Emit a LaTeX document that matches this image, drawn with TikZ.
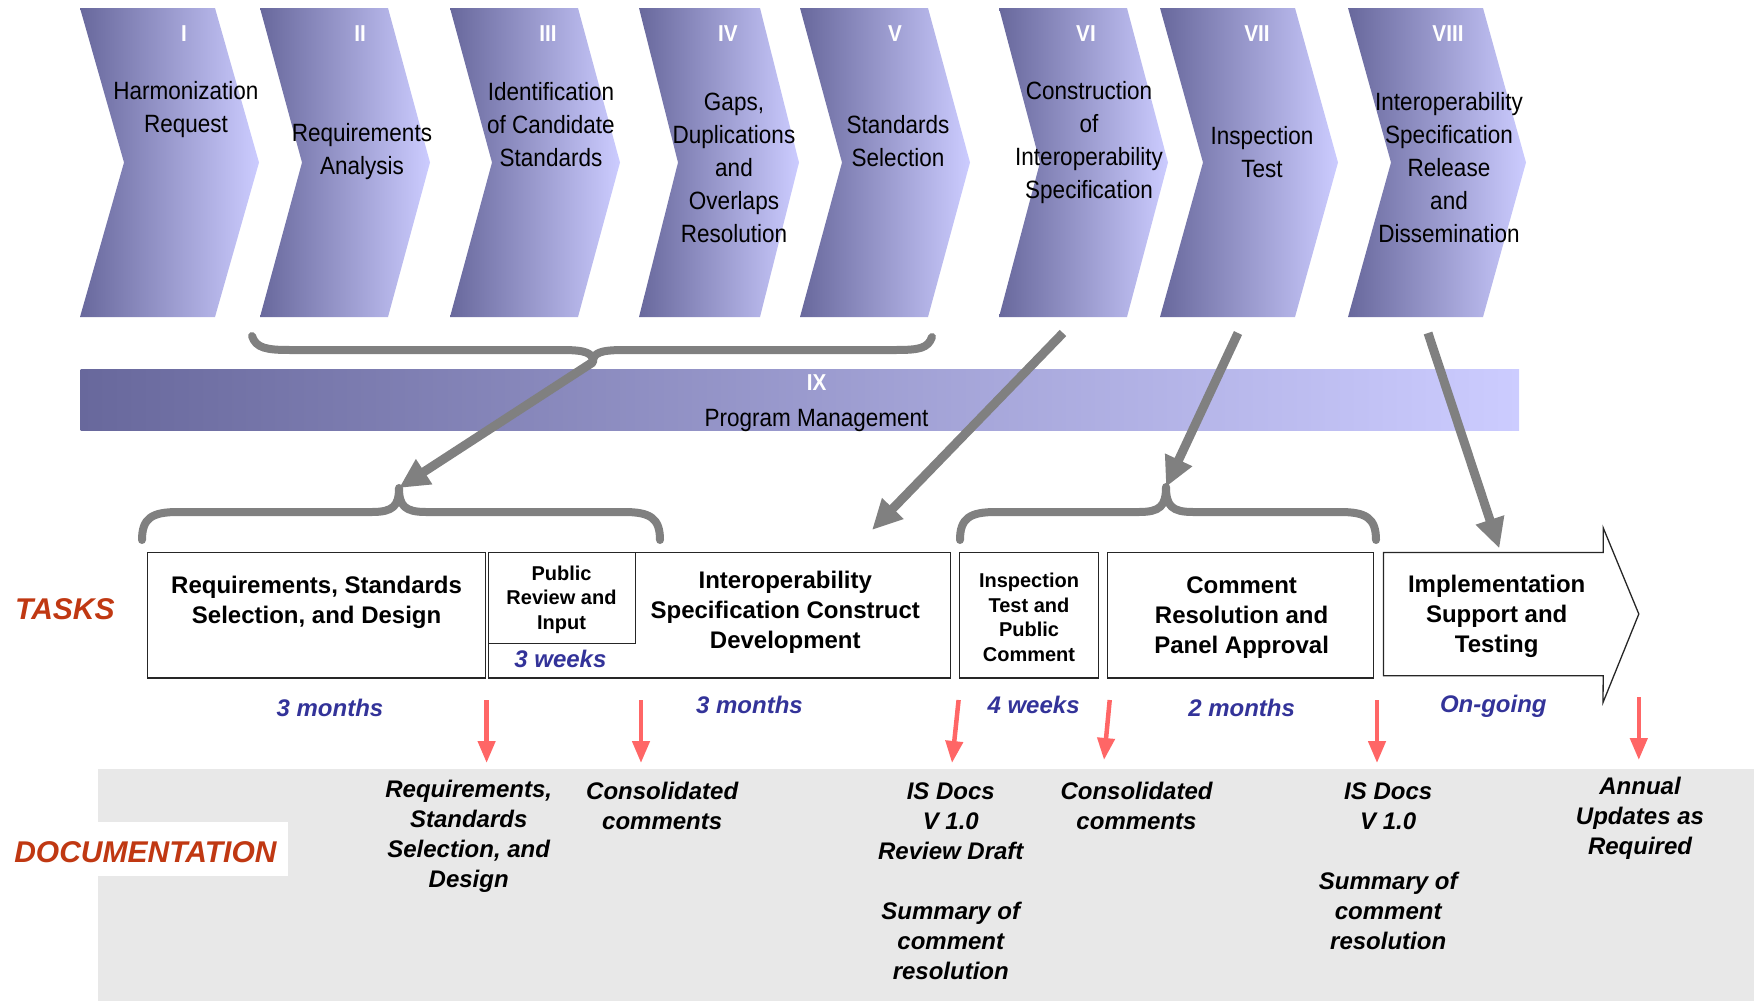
\documentclass[tikz,border=0pt]{standalone}
\usepackage{fontspec}
\setmainfont{Liberation Sans}
\newfontfamily\narrowfont[FakeStretch=0.9]{Liberation Sans}
\usepackage{tikz}
\usetikzlibrary{arrows.meta, positioning}

\definecolor{chevdark}{RGB}{104,104,156}
\definecolor{chevlight}{RGB}{204,204,255}
\definecolor{bracegray}{RGB}{128,128,128}
\definecolor{labelred}{RGB}{192,56,18}
\definecolor{timeblue}{RGB}{51,51,153}
\definecolor{docred}{RGB}{255,102,102}
\definecolor{docgray}{RGB}{232,232,232}

\begin{document}
\begin{tikzpicture}[x = 1pt, y = -1pt,
	chevron/.style = {left color=chevdark, right color=chevlight},
	numeral/.style = {text=white, font=\narrowfont\bfseries\fontsize{23}{26}\selectfont},
	phase/.style = {align=center, font=\narrowfont\fontsize{25}{33}\selectfont},
	brace/.style = {draw=bracegray, line width=8pt, line cap=round, line join=round},
	pointer/.style = {draw=bracegray, line width=9pt, -{Triangle[length=30pt, width=28pt]}},
	taskbox/.style = {draw=black!85, line width=1.3pt, inner sep=0pt},
	task/.style = {align=center, font=\bfseries\fontsize{24}{30}\selectfont},
	smalltask/.style = {align=center, font=\bfseries\fontsize{20}{24.5}\selectfont},
	duration/.style = {text=timeblue, font=\bfseries\itshape\fontsize{24}{28}\selectfont},
	heading/.style = {text=labelred, font=\bfseries\itshape\fontsize{30}{34}\selectfont},
	doc/.style = {align=center, font=\bfseries\itshape\fontsize{24}{30}\selectfont},
	marker/.style = {draw=docred, line width=4.5pt, -{Triangle[length=22pt, width=17pt]}}]

\useasboundingbox (0,0) rectangle (1754,1001);

\path[chevron]	(80,8)		-- ++(135,0) -- ++(44,154.5) -- ++(-44,154.5) -- ++(-135,0) -- ++(44,-154.5) -- cycle;
\path[chevron]	(260,8)		-- ++(128,0) -- ++(42,154.5) -- ++(-42,154.5) -- ++(-128,0) -- ++(42,-154.5) -- cycle;
\path[chevron]	(450,8)		-- ++(128,0) -- ++(42,154.5) -- ++(-42,154.5) -- ++(-128,0) -- ++(42,-154.5) -- cycle;
\path[chevron]	(639,8)		-- ++(121,0) -- ++(39,154.5) -- ++(-39,154.5) -- ++(-121,0) -- ++(39,-154.5) -- cycle;
\path[chevron]	(800,8)		-- ++(128,0) -- ++(42,154.5) -- ++(-42,154.5) -- ++(-128,0) -- ++(42,-154.5) -- cycle;
\path[chevron]	(999,8)		-- ++(128,0) -- ++(41,154.5) -- ++(-41,154.5) -- ++(-128,0) -- ++(41,-154.5) -- cycle;
\path[chevron]	(1160,8)	-- ++(135,0) -- ++(43,154.5) -- ++(-43,154.5) -- ++(-135,0) -- ++(43,-154.5) -- cycle;
\path[chevron]	(1348,8)	-- ++(135,0) -- ++(43,154.5) -- ++(-43,154.5) -- ++(-135,0) -- ++(43,-154.5) -- cycle;

\node[numeral]	(n1)	at (184,34)		{I};
\node[numeral]	(n2)	at (360,34)		{II};
\node[numeral]	(n3)	at (548,34)		{III};
\node[numeral]	(n4)	at (728,34)		{IV};
\node[numeral]	(n5)	at (895,34)		{V};
\node[numeral]	(n6)	at (1086,34)	{VI};
\node[numeral]	(n7)	at (1257,34)	{VII};
\node[numeral]	(n8)	at (1448,34)	{VIII};

\node[phase]	(p1)	at (186,110)	{Harmonization\\Request};
\node[phase]	(p2)	at (362,152)	{Requirements\\Analysis};
\node[phase]	(p3)	at (551,125)	{Identification\\of Candidate\\Standards};
\node[phase]	(p4)	at (734,168)	{Gaps,\\Duplications\\and\\Overlaps\\Resolution};
\node[phase]	(p5)	at (898,141)	{Standards\\Selection};
\node[phase]	(p6)	at (1089,143)	{Construction\\of\\Interoperability\\Specification};
\node[phase]	(p7)	at (1262,152)	{Inspection\\Test};
\node[phase]	(p8)	at (1449,168)	{Interoperability\\Specification\\Release\\and\\Dissemination};

\node[chevron, minimum width=1438.5pt, minimum height=61pt, inner sep=0pt]	(pm)	at (799.75,399.5)	{};
\node[numeral]	(n9)		at (816.6,383)	{IX};
\node[phase]	(pmtext)	at (816.6,420)	{Program Management};

\coordinate	(top-tip)	at (593,362);
\coordinate	(left-tip)	at (399,488);
\coordinate	(right-tip)	at (1166,487);
\coordinate	(vi-out)	at (1063,333);
\coordinate	(vii-out)	at (1238,333);
\coordinate	(viii-out)	at (1428,333);
\coordinate	(spec-in)	at (872,530);

\draw[brace] (252,336) .. controls (256,348) and (266,350) .. (290,350) -- (562,350) .. controls (586,350) and (593,353) .. (top-tip) .. controls (593,353) and (600,350) .. (624,350) -- (896,350) .. controls (920,350) and (928,348) .. (932,337);
\draw[brace] (142,540) .. controls (142,518) and (152,512) .. (178,512) -- (372,512) .. controls (393,512) and (399,506) .. (left-tip) .. controls (399,506) and (405,512) .. (426,512) -- (624,512) .. controls (650,512) and (660,518) .. (660,540);
\draw[brace] (960,540) .. controls (960,518) and (970,512) .. (996,512) -- (1139,512) .. controls (1160,512) and (1166,506) .. (right-tip) .. controls (1166,506) and (1172,512) .. (1193,512) -- (1340,512) .. controls (1366,512) and (1376,518) .. (1376,540);

\node[taskbox, minimum width=337.8pt, minimum height=125.3pt]	(reqbox)	at (316.6,615.25)	{};
\node[taskbox, minimum width=462pt, minimum height=125.3pt]		(specbox)	at (719.8,615.25)	{};
\node[taskbox, minimum width=146.6pt, minimum height=90.6pt]	(reviewbox)	at (562.1,597.9)	{};
\node[taskbox, minimum width=138.7pt, minimum height=125.3pt]	(inspbox)	at (1029.15,615.25)	{};
\node[taskbox, minimum width=266.3pt, minimum height=125.3pt]	(resbox)	at (1240.55,615.25)	{};
\node[minimum width=219.3pt, minimum height=123pt, inner sep=0pt]	(implbox)	at (1493.35,614.1)	{};
\draw[taskbox] (implbox.north west) -- (implbox.north east) -- ++(0,-24.6) -- (1638.8,614) -- ++(-35.8,88.5) -- (implbox.south east) -- (implbox.south west) -- cycle;

\node[task]			(reqtext)		at (316.6,602)		{Requirements, Standards\\Selection, and Design};
\node[smalltask]	(reviewtext)	at (561.5,599.5)	{Public\\Review and\\Input};
\node[task]			(spectext)		at (785.3,612.5)	{Interoperability\\Specification Construct\\Development};
\node[smalltask]	(insptext)		at (1029,617.3)		{Inspection\\Test and\\Public\\Comment};
\node[task]			(restext)		at (1241.6,617.3)	{Comment\\Resolution and\\Panel Approval};
\node[task]			(impltext)		at (1496.7,616.2)	{Implementation\\Support and\\Testing};

\draw[pointer]	(top-tip)	-- (left-tip);
\draw[pointer]	(vi-out)	-- (spec-in);
\draw[pointer]	(vii-out)	-- (right-tip);
\draw[pointer]	(viii-out)	-- ([xshift=6pt, yshift=4pt]implbox.north);

\node[heading]	(tasklabel)	at (64.9,609.6)	{TASKS};

\node[duration]	(t1)	at (330,708)		{3 months};
\node[duration]	(t2)	at (560.4,659)		{3 weeks};
\node[duration]	(t3)	at (749.5,705)		{3 months};
\node[duration]	(t4)	at (1033.6,705)		{4 weeks};
\node[duration]	(t5)	at (1241.6,708)		{2 months};
\node[duration]	(t6)	at (1493.3,706)		{On-going};

\fill[docgray] (98.4,768.5) rectangle (1754,1001);
\node[fill=white, minimum width=287.5pt, minimum height=54pt, inner sep=0pt]	(docbg)	at (143.75,849)	{};
\node[heading]	(doclabel)	at (145.4,852.4)	{DOCUMENTATION};

\coordinate	(m1s)	at (486.6,700);		\coordinate	(m1e)	at (486.6,763);
\coordinate	(m2s)	at (641,700);		\coordinate	(m2e)	at (641,763);
\coordinate	(m3s)	at (958.6,700);		\coordinate	(m3e)	at (952,763);
\coordinate	(m4s)	at (1109.7,700);	\coordinate	(m4e)	at (1104,760);
\coordinate	(m5s)	at (1377,700);		\coordinate	(m5e)	at (1377,763);
\coordinate	(m6s)	at (1638.8,697);	\coordinate	(m6e)	at (1638.8,760);

\draw[marker]	(m1s)	-- (m1e);
\draw[marker]	(m2s)	-- (m2e);
\draw[marker]	(m3s)	-- (m3e);
\draw[marker]	(m4s)	-- (m4e);
\draw[marker]	(m5s)	-- (m5e);
\draw[marker]	(m6s)	-- (m6e);

\node[doc]	(doc1)	at (468.7,836)		{Requirements,\\Standards\\Selection, and\\Design};
\node[doc]	(doc2)	at (662.2,806)		{Consolidated\\comments};
\node[doc]	(doc3)	at (950.8,881)		{IS Docs\\V 1.0\\Review Draft\\[30pt]Summary of\\comment\\resolution};
\node[doc]	(doc4)	at (1136.5,806)		{Consolidated\\comments};
\node[doc]	(doc5)	at (1388.2,866)		{IS Docs\\V 1.0\\[30pt]Summary of\\comment\\resolution};
\node[doc]	(doc6)	at (1640,818)		{Annual\\Updates as\\Required};

\end{tikzpicture}
\end{document}
